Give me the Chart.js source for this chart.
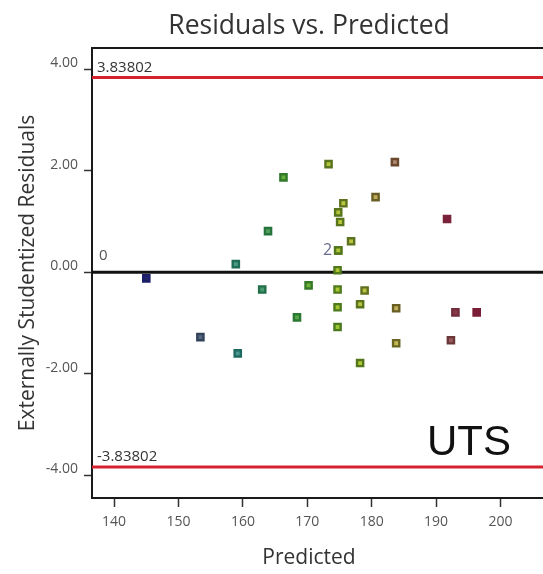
<!DOCTYPE html>
<html lang="en">
<head>
    <meta charset="UTF-8">
    <title>Residuals vs. Predicted</title>
    <script src="https://cdn.jsdelivr.net/npm/chart.js"></script>
    <style type="text/css">
        html, body{
            margin: 0;
            padding: 0;
            overflow: hidden;
            background: #fff;
        }
        .grafica{
            width: 620px;
            height: 574px;
        }
    </style>
</head>
<body>
    <div class="grafica">
        <canvas id="myChart"></canvas>
    </div>
    <script>
        // predicted value (x) and externally studentized residual (y) of each run
        const predicted = [145.0, 153.4, 158.9, 159.2, 163.0, 163.9, 166.3, 168.4, 170.2, 173.3,
                           174.8, 175.1, 175.6, 174.8, 174.8, 174.7, 174.7, 174.7, 174.7, 176.8,
                           178.9, 178.2, 178.2, 180.6, 183.6, 183.8, 183.8, 191.7, 192.3, 193.0, 196.3];
        const residuals = [-0.12, -1.28, 0.16, -1.60, -0.34, 0.81, 1.87, -0.89, -0.26, 2.13,
                           1.18, 0.99, 1.36, 0.43, 0.43, 0.04, -0.34, -0.69, -1.08, 0.61,
                           -0.36, -0.63, -1.79, 1.48, 2.17, -0.71, -1.40, 1.05, -1.34, -0.79, -0.79];

        // outlier limits and the zero line
        const limits = [3.83802, -3.83802];
        const zeroLine = 0;

        const xTicks = [140, 150, 160, 170, 180, 190, 200];
        const yTicks = [-4, -2, 0, 2, 4];
        const xRange = [136.57, 217.5];
        const yRange = [-4.45, 4.42];
        const responseName = 'UTS';

        // colour scale for the squares (blue -> green -> yellow -> red)
        const scaleStops = [144, 151, 157, 163, 168, 174, 181, 186, 190, 193, 197];
        const edgeColors = ['#1a1a6a', '#36405c', '#1d6a60', '#227048', '#2c7a2c', '#4e7a1c', '#6a6a20', '#6a4a2a', '#6a3a3a', '#78243a', '#7a1830'];
        const fillColors = ['#1a1a6a', '#5a6480', '#4a9a90', '#4a9a70', '#5aaa40', '#a8c830', '#c8c050', '#b09070', '#a06060', '#7e2040', '#7a1830'];

        function hexToRgb(h){
            return [parseInt(h.substr(1,2),16), parseInt(h.substr(3,2),16), parseInt(h.substr(5,2),16)];
        }
        function colorAt(colors, t){
            if (t <= scaleStops[0]) return colors[0];
            for (let i = 1; i < scaleStops.length; i++){
                if (t <= scaleStops[i]){
                    const f = (t - scaleStops[i-1]) / (scaleStops[i] - scaleStops[i-1]);
                    const a = hexToRgb(colors[i-1]), b = hexToRgb(colors[i]);
                    const c = a.map((v, k) => Math.round(v + (b[k] - v) * f));
                    return 'rgb(' + c.join(',') + ')';
                }
            }
            return colors[colors.length-1];
        }
        // colour follows the actual response (predicted + residual spread)
        const shade = predicted.map((p, i) => p + 1.5 * residuals[i]);

        const points = predicted.map((p, i) => ({x: p, y: residuals[i]}));
        const flatLine = v => [{x: xRange[0], y: v}, {x: xRange[1], y: v}];

        const data = {
            datasets: [
                {
                    data: points,
                    pointStyle: 'rect',
                    pointRadius: 4.4,
                    borderWidth: 2.4,
                    pointBorderColor: shade.map(t => colorAt(edgeColors, t)),
                    pointBackgroundColor: shade.map(t => colorAt(fillColors, t)),
                    order: 0
                },
                {
                    data: flatLine(limits[0]),
                    showLine: true, pointRadius: 0,
                    borderColor: '#d4232e', borderWidth: 3,
                    order: 1
                },
                {
                    data: flatLine(limits[1]),
                    showLine: true, pointRadius: 0,
                    borderColor: '#d4232e', borderWidth: 3,
                    order: 1
                },
                {
                    data: flatLine(zeroLine),
                    showLine: true, pointRadius: 0,
                    borderColor: '#111', borderWidth: 3,
                    order: 1
                }
            ]
        };

        // plot frame, line labels, coincident point count and response name
        const extras = {
            id: 'extras',
            beforeDatasetsDraw(chart){
                const a = chart.chartArea, ctx = chart.ctx;
                ctx.save();
                ctx.strokeStyle = '#1a1a1a';
                ctx.lineWidth = 2;
                ctx.strokeRect(a.left, a.top, a.right - a.left, a.bottom - a.top);
                ctx.restore();
            },
            afterDatasetsDraw(chart){
                const ctx = chart.ctx, x = chart.scales.x, y = chart.scales.y;
                ctx.save();
                ctx.textAlign = 'left';
                ctx.textBaseline = 'alphabetic';
                ctx.fillStyle = '#333';
                ctx.font = '15px "Open Sans"';
                limits.forEach(v => {
                    ctx.fillText(String(v), chart.chartArea.left + 5, y.getPixelForValue(v) - 6);
                });
                ctx.fillStyle = '#555';
                ctx.font = '15px "Open Sans"';
                ctx.fillText(String(zeroLine), chart.chartArea.left + 7, y.getPixelForValue(zeroLine) - 12);

                // count of points drawn on the same spot
                const seen = {};
                points.forEach(p => {
                    const k = p.x + '|' + p.y;
                    seen[k] = (seen[k] || 0) + 1;
                });
                ctx.fillStyle = '#6a6a8c';
                ctx.font = '16px "Open Sans"';
                ctx.textAlign = 'right';
                ctx.textBaseline = 'middle';
                Object.keys(seen).forEach(k => {
                    if (seen[k] > 1){
                        const [px, py] = k.split('|').map(Number);
                        ctx.fillText(String(seen[k]), x.getPixelForValue(px) - 6, y.getPixelForValue(py));
                    }
                });

                ctx.fillStyle = '#111';
                ctx.font = '42px "Liberation Sans"';
                ctx.textAlign = 'left';
                ctx.textBaseline = 'alphabetic';
                ctx.fillText(responseName, 427, 455);
                ctx.restore();
            }
        };

        const config = {
            type: 'scatter',
            data: data,
            options: {
                responsive: true,
                maintainAspectRatio: false,
                animation: false,
                events: [],
                layout: {padding: {left: 0, right: 2, top: 0, bottom: 0}},
                plugins: {
                    legend: {display: false},
                    tooltip: {enabled: false},
                    title: {
                        display: true,
                        text: 'Residuals vs. Predicted',
                        color: '#333',
                        font: {family: 'Open Sans', size: 26.5, weight: 'normal'},
                        padding: {top: 11, bottom: 5.2}
                    },
                    subtitle: {
                        display: true,
                        position: 'bottom',
                        text: 'Predicted',
                        color: '#333',
                        font: {family: 'Open Sans', size: 21, weight: 'normal'},
                        padding: {top: 3.9, bottom: 3.5}
                    }
                },
                scales: {
                    x: {
                        type: 'linear',
                        min: xRange[0],
                        max: xRange[1],
                        afterBuildTicks: s => { s.ticks = xTicks.map(v => ({value: v})); },
                        afterFit: s => { s.height = 43.4; },
                        border: {display: false},
                        grid: {drawOnChartArea: false, tickLength: 9, tickColor: '#333', tickWidth: 1.5},
                        ticks: {
                            color: '#555',
                            font: {family: 'Open Sans', size: 14},
                            padding: 7,
                            maxRotation: 0,
                            callback: v => String(v)
                        }
                    },
                    y: {
                        type: 'linear',
                        min: yRange[0],
                        max: yRange[1],
                        afterBuildTicks: s => { s.ticks = yTicks.map(v => ({value: v})); },
                        afterFit: s => { s.width = 92; },
                        border: {display: false},
                        grid: {drawOnChartArea: false, tickLength: 8, tickColor: '#333', tickWidth: 1.5},
                        title: {
                            display: true,
                            text: 'Externally Studentized Residuals',
                            color: '#333',
                            font: {family: 'Open Sans', size: 21, weight: 'normal'},
                            padding: {top: 15.4, bottom: 0}
                        },
                        ticks: {
                            color: '#555',
                            font: {family: 'Open Sans', size: 14},
                            padding: 6,
                            labelOffset: -6,
                            callback: v => v.toFixed(2)
                        }
                    }
                }
            },
            plugins: [extras]
        };
        const myChart = new Chart(
            document.getElementById('myChart'),
            config
        );
    </script>
</body>
</html>
